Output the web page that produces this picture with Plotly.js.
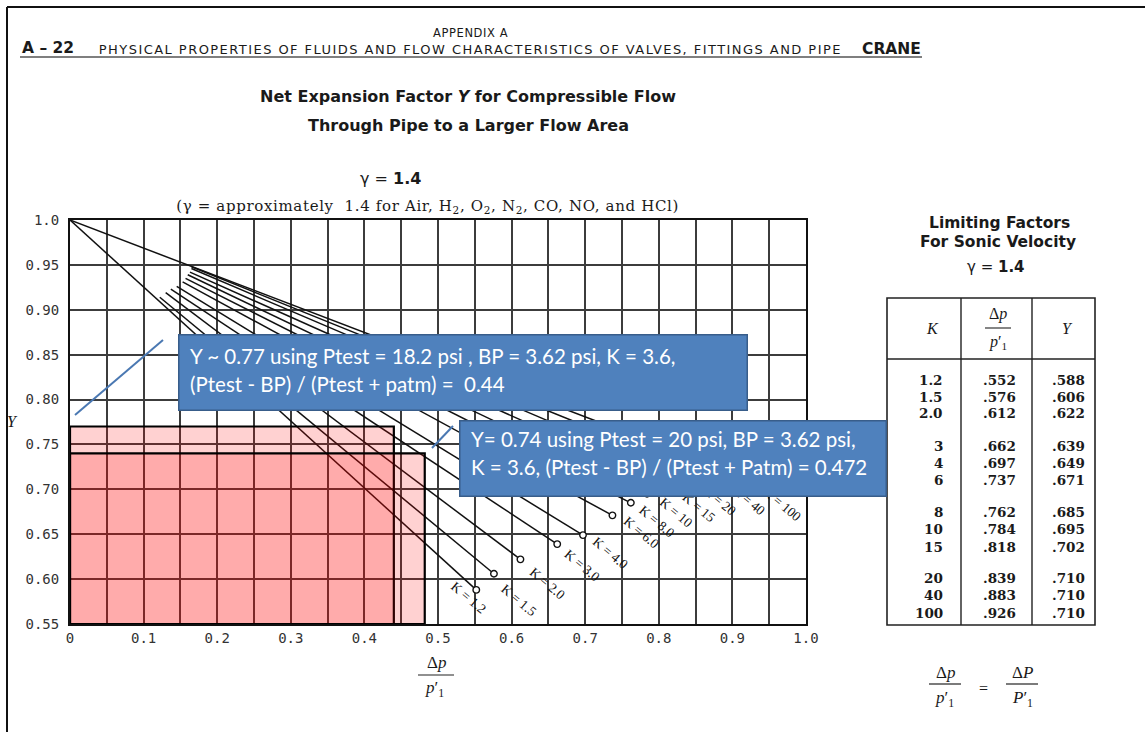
<!DOCTYPE html>
<html>
<head>
<meta charset="utf-8">
<script src="https://cdn.plot.ly/plotly-3.0.1.min.js"></script>
<style>html,body{margin:0;padding:0;background:#fff;}#chart{width:1145px;height:732px;}</style>
</head>
<body>
<div id="chart"></div>
<script>
// ---- data ----
const kLabels = ['K = 1.2','K = 1.5','K = 2.0','K = 3.0','K = 4.0','K = 6.0','K = 8.0','K = 10','K = 15','K = 20','K = 40','K = 100'];
const tableK = ['1.2','1.5','2.0','3','4','6','8','10','15','20','40','100'];
const limitDp = [0.552,0.576,0.612,0.662,0.697,0.737,0.762,0.784,0.818,0.839,0.883,0.926];
const limitY  = [0.588,0.606,0.622,0.639,0.649,0.671,0.685,0.695,0.702,0.710,0.710,0.710];
const tableDpText = ['.552','.576','.612','.662','.697','.737','.762','.784','.818','.839','.883','.926'];
const tableYText  = ['.588','.606','.622','.639','.649','.671','.685','.695','.702','.710','.710','.710'];
const startDp = [0, 0.122, 0.130, 0.137, 0.145, 0.153, 0.157, 0.160, 0.163, 0.165, 0.165, 0];
const startY  = [1.0, 0.914, 0.919, 0.923, 0.926, 0.931, 0.935, 0.939, 0.942, 0.946, 0.948, 1.0];
const markDp = [0.44, 0.482];
const markY  = [0.77, 0.74];
const xTickVals = [0,0.1,0.2,0.3,0.4,0.5,0.6,0.7,0.8,0.9,1.0];
const xTickText = ['0','0.1','0.2','0.3','0.4','0.5','0.6','0.7','0.8','0.9','1.0'];
const yTickVals = [0.55,0.6,0.65,0.7,0.75,0.8,0.85,0.9,0.95,1.0];
const yTickText = ['0.55','0.60','0.65','0.70','0.75','0.80','0.85','0.90','0.95','1.0'];
const note1 = ['Y ~ 0.77 using Ptest = 18.2 psi , BP = 3.62 psi, K = 3.6,', '(Ptest - BP) / (Ptest + patm) =\u00a0 0.44'];
const note2 = ['Y= 0.74 using Ptest = 20 psi, BP = 3.62 psi,', 'K = 3.6, (Ptest - BP) / (Ptest + Patm) = 0.472'];

// ---- layout helpers (pixel -> paper) ----
const XL=70, XR=806, YT=220, YB=624, W=1145, H=732;
const px = x => (x-XL)/(XR-XL);
const py = y => (YB-y)/(YB-YT);
const SERIF = 'Liberation Serif, serif';
const DSERIF = 'DejaVu Serif, serif';
const WIDE = 'DejaVu Sans, sans-serif';
const spacing = {};   // annotation index -> css letter-spacing
function txt(x, y, text, font, extra) {
  return Object.assign({xref:'paper', yref:'paper', x:px(x), y:py(y), text:text, showarrow:false,
    xanchor:'center', yanchor:'middle', font:Object.assign({color:'#1a1a1a'}, font)}, extra||{});
}
function pline(x0,y0,x1,y1,color,width){
  return {type:'line', xref:'paper', yref:'paper', x0:px(x0), y0:py(y0), x1:px(x1), y1:py(y1),
    line:{color:color||'#222', width:width||1.5}, layer:'above'};
}

// ---- traces ----
const traces = [];
for (let i=0;i<kLabels.length;i++){
  traces.push({x:[startDp[i], limitDp[i]], y:[startY[i], limitY[i]], mode:'lines', type:'scatter',
    line:{color:'#111', width:1.5}, hoverinfo:'skip'});
}
traces.push({x:limitDp, y:limitY, mode:'markers', type:'scatter',
  marker:{symbol:'circle', size:6.5, color:'#fff', line:{color:'#111', width:1.4}}, hoverinfo:'skip'});

// ---- annotations ----
const ann = [];
const labelShift = [[-8,8],[25,27],[27,24],[25,21],[28,18],[29,17],[26,19],[29,19],[27,20],[32,20],[29,20],[31,24]];
for (let i=0;i<kLabels.length;i++){
  ann.push({x:limitDp[i], y:limitY[i], xref:'x', yref:'y', text:kLabels[i], showarrow:false,
    textangle:40, xshift:labelShift[i][0], yshift:-labelShift[i][1],
    font:{family:SERIF, size:13.5, color:'#111'}});
}
function box(x0,y0,x1,y1){
  return {xref:'paper', yref:'paper', x:px(x0), y:py(y0), xanchor:'left', yanchor:'top', text:'\u00a0',
    showarrow:false, width:(x1-x0)-3, height:(y1-y0)-3, bgcolor:'#4f81bd', bordercolor:'#385d8a',
    borderwidth:1.5, borderpad:0, font:{size:10, color:'#4f81bd'}};
}
ann.push(box(178,334,748,411));
ann.push(box(459,420,887,497));
const NOTEFONT = {family:'Lato, Open Sans, sans-serif', size:20.5, color:'#ffffff'};
function spaced(a, ls){ spacing[ann.length] = ls; ann.push(a); }
ann.push(txt(188,356,note1[0],NOTEFONT,{xanchor:'left'}));
ann.push(txt(188,384,note1[1],NOTEFONT,{xanchor:'left'}));
ann.push(txt(469,439,note2[0],NOTEFONT,{xanchor:'left'}));
ann.push(txt(469,467,note2[1],NOTEFONT,{xanchor:'left'}));

// header (tracked texts are centred so the extra spacing spreads evenly)
spaced(txt(470,33,'APPENDIX A',{family:WIDE, size:11.5}), 0.6);
ann.push(txt(20,48,'<b>A \u2013 22</b>',{family:WIDE, size:15.5},{xanchor:'left'}));
spaced(txt(470,49,'PHYSICAL PROPERTIES OF FLUIDS AND FLOW CHARACTERISTICS OF VALVES, FITTINGS AND PIPE',{family:WIDE, size:13}), 1.45);
ann.push(txt(860,49,'<b>CRANE</b>',{family:WIDE, size:15.5},{xanchor:'left'}));
// titles
ann.push(txt(468,97,'<b>Net Expansion Factor <i>Y</i> for Compressible Flow</b>',{family:WIDE, size:16}));
ann.push(txt(468,125,'<b>Through Pipe to a Larger Flow Area</b>',{family:WIDE, size:16}));
ann.push(txt(390,179,'\u03b3 = <b>1.4</b>',{family:WIDE, size:16}));
spaced(txt(427,206,'(\u03b3 = approximately\u00a0 1.4 for Air, H<sub>2</sub>, O<sub>2</sub>, N<sub>2</sub>, CO, NO, and HCl)',{family:DSERIF, size:15}), 0.65);
// axis titles
ann.push(txt(12,421,'<i>Y</i>',{family:SERIF, size:16}));
ann.push(txt(436,662,'\u0394<i>p</i>',{family:SERIF, size:17}));
ann.push(txt(434,689,'<i>p</i>\u2032<sub>1</sub>',{family:SERIF, size:17}));
// table titles
ann.push(txt(1000,223,'<b>Limiting Factors</b>',{family:WIDE, size:15.5}));
ann.push(txt(998,242,'<b>For Sonic Velocity</b>',{family:WIDE, size:15.5}));
ann.push(txt(996,267,'\u03b3 = <b>1.4</b>',{family:WIDE, size:15}));
// table header
ann.push(txt(932,328,'<i>K</i>',{family:SERIF, size:16}));
ann.push(txt(998,314,'\u0394<i>p</i>',{family:SERIF, size:16}));
ann.push(txt(998,342,'<i>p</i>\u2032<sub>1</sub>',{family:SERIF, size:16}));
ann.push(txt(1067,328,'<i>Y</i>',{family:SERIF, size:16}));
// table rows
const rowY = [380,397,413,446,463,480,512,529,547,578,595,613];
for (let i=0;i<tableK.length;i++){
  ann.push(txt(945,rowY[i],'<b>'+tableK[i]+'</b>',{family:DSERIF, size:13.5},{xanchor:'right'}));
  ann.push(txt(999,rowY[i],'<b>'+tableDpText[i]+'</b>',{family:DSERIF, size:13.5}));
  ann.push(txt(1068,rowY[i],'<b>'+tableYText[i]+'</b>',{family:DSERIF, size:13.5}));
}
// bottom formula
ann.push(txt(945,672,'\u0394<i>p</i>',{family:SERIF, size:17}));
ann.push(txt(944,699,'<i>p</i>\u2032<sub>1</sub>',{family:SERIF, size:17}));
ann.push(txt(983,688,'=',{family:SERIF, size:16}));
ann.push(txt(1022,672,'\u0394<i>P</i>',{family:SERIF, size:17}));
ann.push(txt(1022,699,'<i>P</i>\u2032<sub>1</sub>',{family:SERIF, size:17}));

// letter-spacing for the tracked texts
let css = '';
for (const k in spacing) css += 'g.annotation[data-index="'+k+'"] text{letter-spacing:'+spacing[k]+'px;}\n';
const st = document.createElement('style'); st.textContent = css; document.head.appendChild(st);

// ---- shapes ----
const shapes = [];
for (let i=0;i<markDp.length;i++){
  shapes.push({type:'rect', xref:'x', yref:'y', x0:0, x1:markDp[i], y0:0.55, y1:markY[i],
    fillcolor:'rgba(255,0,0,0.18)', line:{color:'#000', width:2.2}, layer:'above'});
}
shapes.push(pline(75,415,163,340,'#4a78b2',2));
shapes.push(pline(432,448,453,426,'#4a78b2',2));
shapes.push(pline(7,7,7,H,'#111',2));
shapes.push(pline(7,7,W,7,'#111',2));
shapes.push(pline(20,57,922,57,'#555',1.5));
shapes.push(pline(418,675,454,675,'#222',1.2));
shapes.push({type:'rect', xref:'paper', yref:'paper', x0:px(887), x1:px(1095), y0:py(625), y1:py(298),
  line:{color:'#222', width:1.6}, fillcolor:'rgba(0,0,0,0)', layer:'above'});
shapes.push(pline(961,298,961,625,'#222',1.4));
shapes.push(pline(1032,298,1032,625,'#222',1.4));
shapes.push(pline(887,359,1095,359,'#222',1.4));
shapes.push(pline(985,328,1011,328,'#222',1.1));
shapes.push(pline(929,684,961,684,'#222',1.2));
shapes.push(pline(1006,684,1038,684,'#222',1.2));

const GRID = {color:'#3c3c3c', width:2};
const TICKFONT = {family:'DejaVu Sans Mono, monospace', size:14, color:'#333'};
const layout = {
  width:W, height:H, autosize:false,
  margin:{l:XL, r:W-XR, t:YT, b:H-YB, pad:0},
  paper_bgcolor:'#fff', plot_bgcolor:'#fff', showlegend:false,
  xaxis:{range:[0,1], tickmode:'array', tickvals:xTickVals, ticktext:xTickText,
    showgrid:true, gridcolor:GRID.color, gridwidth:GRID.width, zeroline:false,
    minor:{tickmode:'linear', tick0:0.05, dtick:0.1, showgrid:true, gridcolor:GRID.color, gridwidth:GRID.width, ticks:''},
    showline:true, mirror:true, linecolor:'#111', linewidth:2, ticks:'', ticklabelstandoff:0,
    tickfont:TICKFONT, fixedrange:true},
  yaxis:{range:[0.55,1.0], tickmode:'array', tickvals:yTickVals, ticktext:yTickText,
    showgrid:true, gridcolor:GRID.color, gridwidth:GRID.width, zeroline:false,
    showline:true, mirror:true, linecolor:'#111', linewidth:2, ticks:'', ticklabelstandoff:6,
    tickfont:TICKFONT, fixedrange:true},
  annotations:ann, shapes:shapes
};
Plotly.newPlot('chart', traces, layout, {staticPlot:true, displayModeBar:false});
</script>
</body>
</html>
